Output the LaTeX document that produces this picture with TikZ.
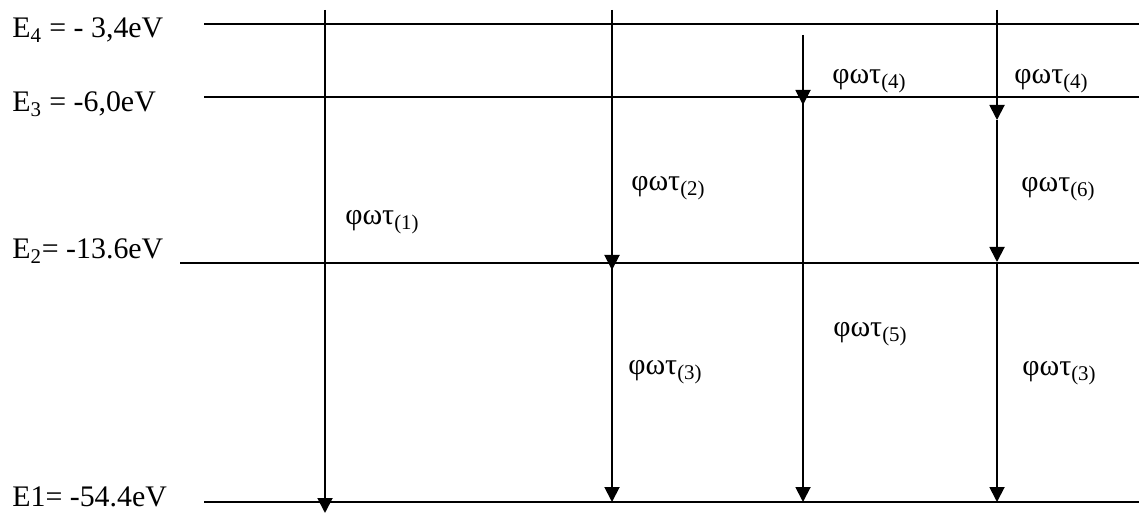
\documentclass[tikz,border=0pt]{standalone}
\usepackage{fontspec}
\setmainfont{Liberation Serif}
\usepackage{tikz}
\usetikzlibrary{positioning, arrows.meta}

\newcommand{\phot}[1]{φωτ\textsubscript{(#1)}}

\begin{document}
\begin{tikzpicture}[x=0.02cm, y=-0.02cm,
    every node/.style={font=\fontsize{17}{20}\selectfont, inner sep=0pt},
    level/.style={line width=1.1pt},
    arr/.style={-{Triangle[length=0.3cm, width=0.3cm]}, line width=1.1pt},
    lbl/.style={anchor=base west}]
  \useasboundingbox (0,0) rectangle (1139,519);

  % energy levels
  \node[lbl] (E4) at (12,38) {E\textsubscript{4} = - 3,4eV};
  \node[lbl] (E3) at (12,112) {E\textsubscript{3} = -6,0eV};
  \node[lbl] (E2) at (12,259) {E\textsubscript{2}= -13.6eV};
  \node[lbl] (E1) at (12,507) {E1= -54.4eV};

  \foreach \n/\x/\y in {4/204/24, 3/204/97, 2/180/263, 1/204/502} {
    \coordinate (L\n a) at (\x,\y);
    \coordinate (L\n b) at (1139,\y);
    \draw[level] (L\n a) -- (L\n b);
  }

  % transitions
  \coordinate (a1s) at (325,10);  \coordinate (a1e) at (325,513);
  \coordinate (a2s) at (612,10);  \coordinate (a2e) at (612,270);
  \coordinate (a3s) at (612,263); \coordinate (a3e) at (612,502);
  \coordinate (a4s) at (803,35);  \coordinate (a4e) at (803,105);
  \coordinate (a5s) at (803,97);  \coordinate (a5e) at (803,502);
  \coordinate (a6s) at (997,10);  \coordinate (a6e) at (997,120);
  \coordinate (a7s) at (997,120); \coordinate (a7e) at (997,262);
  \coordinate (a8s) at (997,263); \coordinate (a8e) at (997,502);

  \foreach \i in {1,...,8}
    \draw[arr] (a\i s) -- (a\i e);

  % photon labels
  \node[lbl] (p1) at (345,225) {\phot{1}};
  \node[lbl] (p2) at (631,191) {\phot{2}};
  \node[lbl] (p3) at (628,375) {\phot{3}};
  \node[lbl] (p4) at (832,84) {\phot{4}};
  \node[lbl] (p5) at (833,337) {\phot{5}};
  \node[lbl] (p4b) at (1014,84) {\phot{4}};
  \node[lbl] (p6) at (1021,192) {\phot{6}};
  \node[lbl] (p3b) at (1022,376) {\phot{3}};
\end{tikzpicture}
\end{document}
